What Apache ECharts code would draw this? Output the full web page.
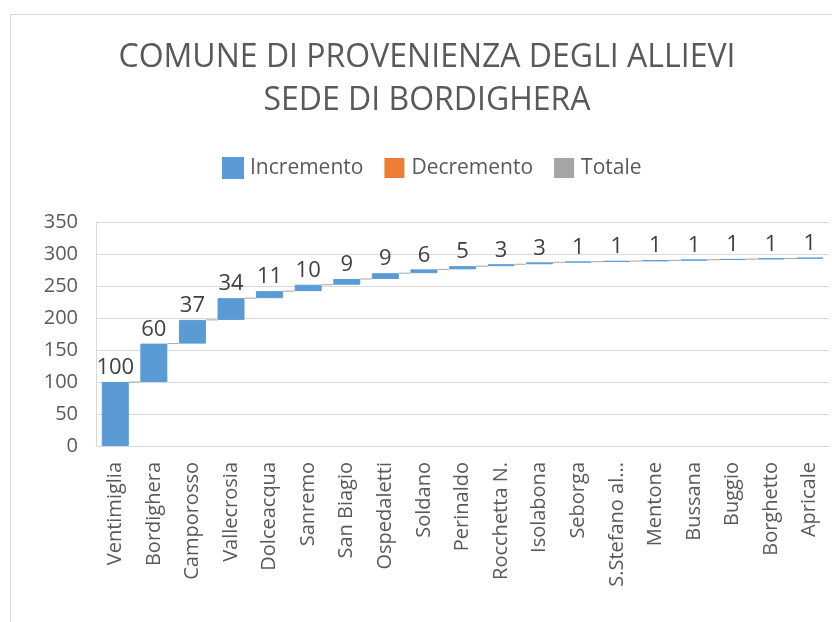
<!DOCTYPE html>
<html>
<head>
<meta charset="utf-8">
<script src="https://cdn.jsdelivr.net/npm/echarts@6/dist/echarts.min.js"></script>
<style>
html,body{margin:0;padding:0;background:#fff;}
#chart{width:832px;height:622px;}
</style>
</head>
<body>
<div id="chart"></div>
<script>
var categories = ["Ventimiglia","Bordighera","Camporosso","Vallecrosia","Dolceacqua","Sanremo","San Biagio","Ospedaletti","Soldano","Perinaldo","Rocchetta N.","Isolabona","Seborga","S.Stefano al...","Mentone","Bussana","Buggio","Borghetto","Apricale"];
var increments = [100,60,37,34,11,10,9,9,6,5,3,3,1,1,1,1,1,1,1];
var yTicks = {min: 0, max: 350, interval: 50};
var titleLines = ["COMUNE DI PROVENIENZA DEGLI ALLIEVI", "SEDE DI BORDIGHERA"];
var legendNames = ["Incremento", "Decremento", "Totale"];

var bases = [];
var cumulative = [];
var run = 0;
for (var i = 0; i < increments.length; i++) {
  bases.push(run);
  run += increments[i];
  cumulative.push(run);
}
var connectorData = cumulative.map(function (v, i) { return [i, v]; });

var FONT = "'Open Sans', 'Noto Sans', sans-serif";
var chart = echarts.init(document.getElementById('chart'));
chart.setOption({
  animation: false,
  backgroundColor: '#fff',
  graphic: [{
    type: 'rect', left: 10, top: 14, z: -10,
    shape: {x: 0, y: 0, width: 840, height: 640},
    style: {fill: '#fff', stroke: '#d9d9d9', lineWidth: 1}
  }, {
    type: 'text', x: 427, y: 36, z: 10,
    style: {
      text: titleLines.join('\n'),
      fontFamily: FONT, fontSize: 32, lineHeight: 43,
      fill: '#595959', align: 'center', verticalAlign: 'top'
    }
  }],
  legend: {
    data: legendNames,
    top: 152, left: 217,
    itemWidth: 20, itemHeight: 20, itemGap: 21, icon: 'rect',
    textStyle: {fontFamily: FONT, fontSize: 21, color: '#595959', padding: [0, 0, 0, 2]}
  },
  grid: {left: 96, right: 3, top: 222, bottom: 176, containLabel: false},
  xAxis: {
    type: 'category', data: categories,
    axisLine: {show: true, lineStyle: {color: '#d9d9d9'}},
    axisTick: {show: false},
    axisLabel: {rotate: 90, interval: 0, fontFamily: FONT, fontSize: 20, color: '#595959', margin: 16}
  },
  yAxis: {
    type: 'value', min: yTicks.min, max: yTicks.max, interval: yTicks.interval,
    axisLine: {show: true, lineStyle: {color: '#d9d9d9'}},
    axisTick: {show: false},
    splitLine: {lineStyle: {color: '#d9d9d9'}},
    axisLabel: {fontFamily: FONT, fontSize: 20, color: '#595959', margin: 18}
  },
  series: [
    {
      name: 'base', type: 'bar', stack: 'w', data: bases, barWidth: '70%',
      itemStyle: {color: 'transparent'}, silent: true, legendHoverLink: false
    },
    {
      name: 'Incremento', type: 'bar', stack: 'w', data: increments, barWidth: '70%',
      itemStyle: {color: '#5b9bd5', borderColor: '#5b9bd5', borderWidth: 1},
      label: {show: true, position: 'top', fontFamily: FONT, fontSize: 22, color: '#404040', distance: 3}
    },
    {name: 'Decremento', type: 'bar', stack: 'w', data: [], itemStyle: {color: '#ed7d31'}},
    {name: 'Totale', type: 'bar', stack: 'w', data: [], itemStyle: {color: '#a5a5a5'}},
    {
      name: 'connector', type: 'custom', data: connectorData, z: 1,
      renderItem: function (params, api) {
        var idx = api.value(0);
        if (idx >= categories.length - 1) return null;
        var v = api.value(1);
        var p1 = api.coord([idx, v]);
        var p2 = api.coord([idx + 1, v]);
        var hw = api.size([1, 0])[0] * 0.35;
        return {
          type: 'line',
          shape: {x1: p1[0] + hw, y1: p1[1], x2: p2[0] - hw, y2: p2[1]},
          style: {stroke: '#a6a6a6', lineWidth: 1}
        };
      }
    }
  ]
});
</script>
</body>
</html>
